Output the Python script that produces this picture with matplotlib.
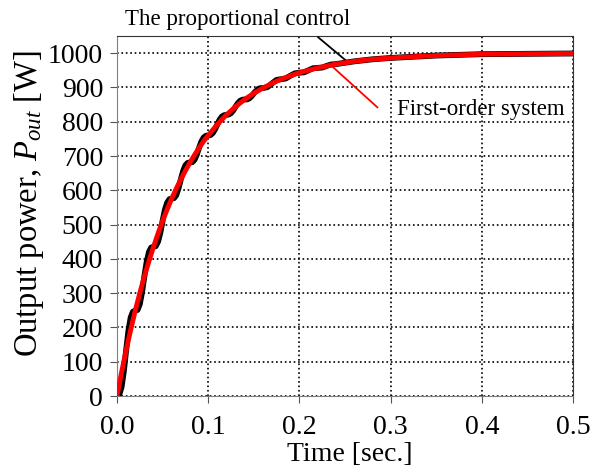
import matplotlib
matplotlib.use('Agg')
import matplotlib.pyplot as plt

# First-order system (red)
t_first = [0, .005, .01, .015, .02, .025, .03, .035, .04, .045, .05, .055, .06,
           .065, .07, .075, .08, .085, .09, .095, .10, .11, .12, .13, .14, .15,
           .16, .17, .18, .19, .20, .22, .24, .26, .28, .30, .35, .40, .45, .50]
p_first = [0, 69, 133, 193, 249, 300, 349, 393, 435, 474, 511, 544, 576,
           605, 632, 657, 681, 703, 724, 743, 760, 792, 820, 844, 865, 883,
           898, 912, 924, 934, 943, 957, 968, 976, 982, 986, 993, 997, 998, 999]

# Proportional control (black), with the ripple
t_prop = [0, .0025, .005, .0075, .01, .0125, .015, .0175, .02, .0225, .025,
          .0275, .03, .0325, .035, .0375, .04, .0425, .045, .0475, .05, .0525,
          .055, .0575, .06, .0625, .065, .0675, .07, .0725, .075, .0775, .08,
          .0825, .085, .0875, .09, .0925, .095, .0975, .10, .1025, .105, .1075,
          .11, .1125, .115, .1175, .12, .1225, .125, .1275, .13, .1325, .135,
          .1375, .14, .1425, .145, .1475, .15, .1525, .155, .1575, .16,
          .165, .17, .175, .18, .185, .19, .195, .20, .205, .21, .215, .22,
          .225, .23, .235, .24, .25, .26, .28, .30, .35, .40, .45, .50]
p_prop = [0, 4, 26, 72, 133, 190, 229, 246, 249, 251, 268,
          303, 349, 391, 420, 433, 435, 437, 450, 476, 511, 543,
          564, 574, 576, 577, 586, 606, 632, 656, 673, 680, 681,
          682, 689, 704, 724, 742, 754, 759, 760, 761, 767, 778,
          792, 806, 815, 819, 820, 821, 825, 833, 844, 854, 861,
          864, 865, 865, 868, 874, 883, 890, 896, 898, 898,
          901, 912, 922, 924, 926, 934, 941, 943, 944, 950, 956, 957,
          958, 963, 967, 968, 972, 976, 982, 986, 993, 997, 998, 999]

x_ticks = [0.0, 0.1, 0.2, 0.3, 0.4, 0.5]
y_ticks = list(range(0, 1001, 100))

plt.rcParams['font.family'] = 'Liberation Serif'
plt.rcParams['mathtext.fontset'] = 'custom'
plt.rcParams['mathtext.rm'] = 'Liberation Serif'
plt.rcParams['mathtext.it'] = 'Liberation Serif:italic'

fig = plt.figure(figsize=(6.04, 4.71), dpi=100)
ax = fig.add_axes([117 / 604, 1 - 396 / 471, 456 / 604, 360 / 471])

ax.plot(t_prop, p_prop, color='black', lw=4.2, solid_capstyle='round', zorder=3)
ax.plot(t_first, p_first, color='red', lw=3.5, solid_capstyle='round', zorder=4)

ax.set_xlim(0, 0.5)
ax.set_ylim(0, 1050)
ax.set_xticks(x_ticks)
ax.set_xticklabels(['%.1f' % v for v in x_ticks])
ax.set_yticks(y_ticks)
ax.grid(True, color='black', linestyle=':', lw=1.2)
ax.tick_params(axis='both', direction='out', length=5, labelsize=20,
               color='#555555')
ax.tick_params(axis='x', pad=8.5)
ax.tick_params(axis='y', pad=5)

for side in ['left', 'bottom']:
    ax.spines[side].set_color('#808080')
for side in ['top', 'right']:
    ax.spines[side].set_color('#333333')

ax.set_xlabel('Time [sec.]', fontsize=20)
ax.xaxis.set_label_coords((350 - 117) / 456, (396 - 442) / 360)
ax.set_ylabel('Output power, $P_{out}$ [W]', fontsize=23.5)
ax.yaxis.set_label_coords((46 - 117) / 456, (396 - 204) / 360)

# Annotations
ax.annotate('', xy=(0.253, 974), xytext=(0.218, 1052), annotation_clip=False,
            arrowprops=dict(arrowstyle='-', color='black', lw=1.3))
ax.annotate('', xy=(0.234, 966), xytext=(0.288, 836), annotation_clip=False,
            arrowprops=dict(arrowstyle='-', color='red', lw=1.3))
fig.text(125 / 604, 1 - 19 / 471, 'The proportional control', fontsize=16.5,
         ha='left', va='center')
fig.text(397 / 604, 1 - 110 / 471, 'First-order system', fontsize=16.5,
         ha='left', va='center')

fig.savefig('out.png', dpi=100)
